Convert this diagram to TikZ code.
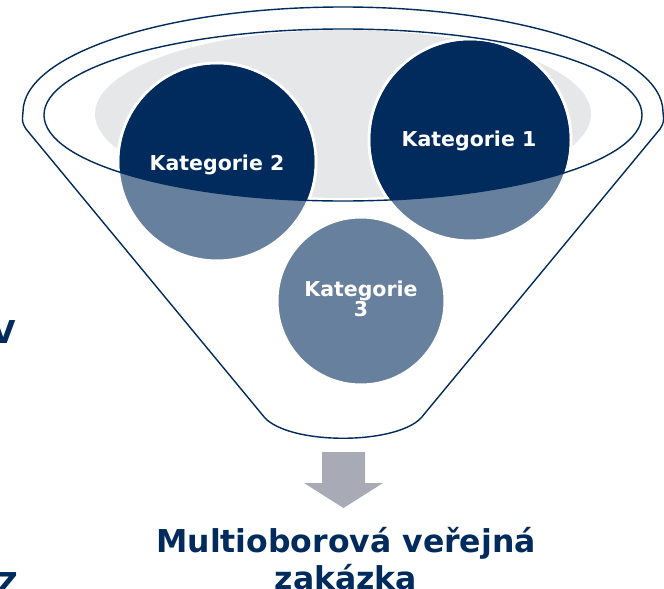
\documentclass[tikz,border=0pt]{standalone}
\usepackage{fontspec}
\setmainfont{DejaVu Sans}
\usepackage{tikz}
\usetikzlibrary{calc,positioning}
\definecolor{navy}{RGB}{0,43,92}
\definecolor{steel}{RGB}{103,128,157}
\definecolor{rimgrey}{RGB}{230,231,233}
\definecolor{arrowgrey}{RGB}{168,170,181}
\tikzstyle{rim}     =[draw=navy, line width=1.4pt, line join=round]
\tikzstyle{disc}    =[fill=steel, draw=white, line width=3pt]
\tikzstyle{cattext} =[text=white, font=\fontsize{20.5}{20}\selectfont\bfseries,
                      align=center, inner sep=0pt]
\tikzstyle{headline}=[text=navy, font=\fontsize{31.5}{37}\selectfont\bfseries,
                      align=center, inner sep=0pt]
\begin{document}
\begin{tikzpicture}[x=1pt, y=-1pt]
        \useasboundingbox (0,0) rectangle (664,589);
        % funnel body
        \draw[rim] (265,418) -- (26,129) .. controls (22,122) .. (23,112)
            arc[start angle=180, end angle=360, x radius=320, y radius=105]
            .. controls (664,122) .. (660,129) -- (421,418)
            .. controls (395,445) and (291,445) .. (265,418);
        \coordinate (mouth) at (343,115);
        \fill[rimgrey] (343,114) ellipse [x radius=248, y radius=84];

        \foreach \n/\x/\y/\r in {1/470/140/101, 2/217/162/99, 3/361/301/84}{
            \coordinate (c\n) at (\x,\y);
            \draw[disc] (c\n) circle [radius=\r];
        }
        \begin{scope}
            \clip (mouth) ellipse [x radius=299, y radius=86];
            \foreach \n/\r in {1/101, 2/99}
                \fill[navy] (c\n) circle [radius=\r-1.5];
        \end{scope}
        \draw[rim] (mouth) ellipse [x radius=299, y radius=86];

        \node[cattext, anchor=base] (k1) at (469,146) {Kategorie 1};
        \node[cattext, anchor=base] (k2) at (217,170) {Kategorie 2};
        \node[cattext] (k3) at (361,299) {Kategorie\\3};

        % arrow down to the result
        \fill[arrowgrey] (322,452) -- (365,452) -- (365,483) -- (383,483)
            -- (343.5,508) -- (304,483) -- (322,483) -- cycle;
        \node[headline, anchor=base] (result) at (346,589)
            {Multioborová veřejná\\zakázka};

        \node[headline, anchor=base east] (cutv) at (16,343) {V};
        \node[headline, anchor=base east] (cutz) at (19,595) {Z};
\end{tikzpicture}
\end{document}
